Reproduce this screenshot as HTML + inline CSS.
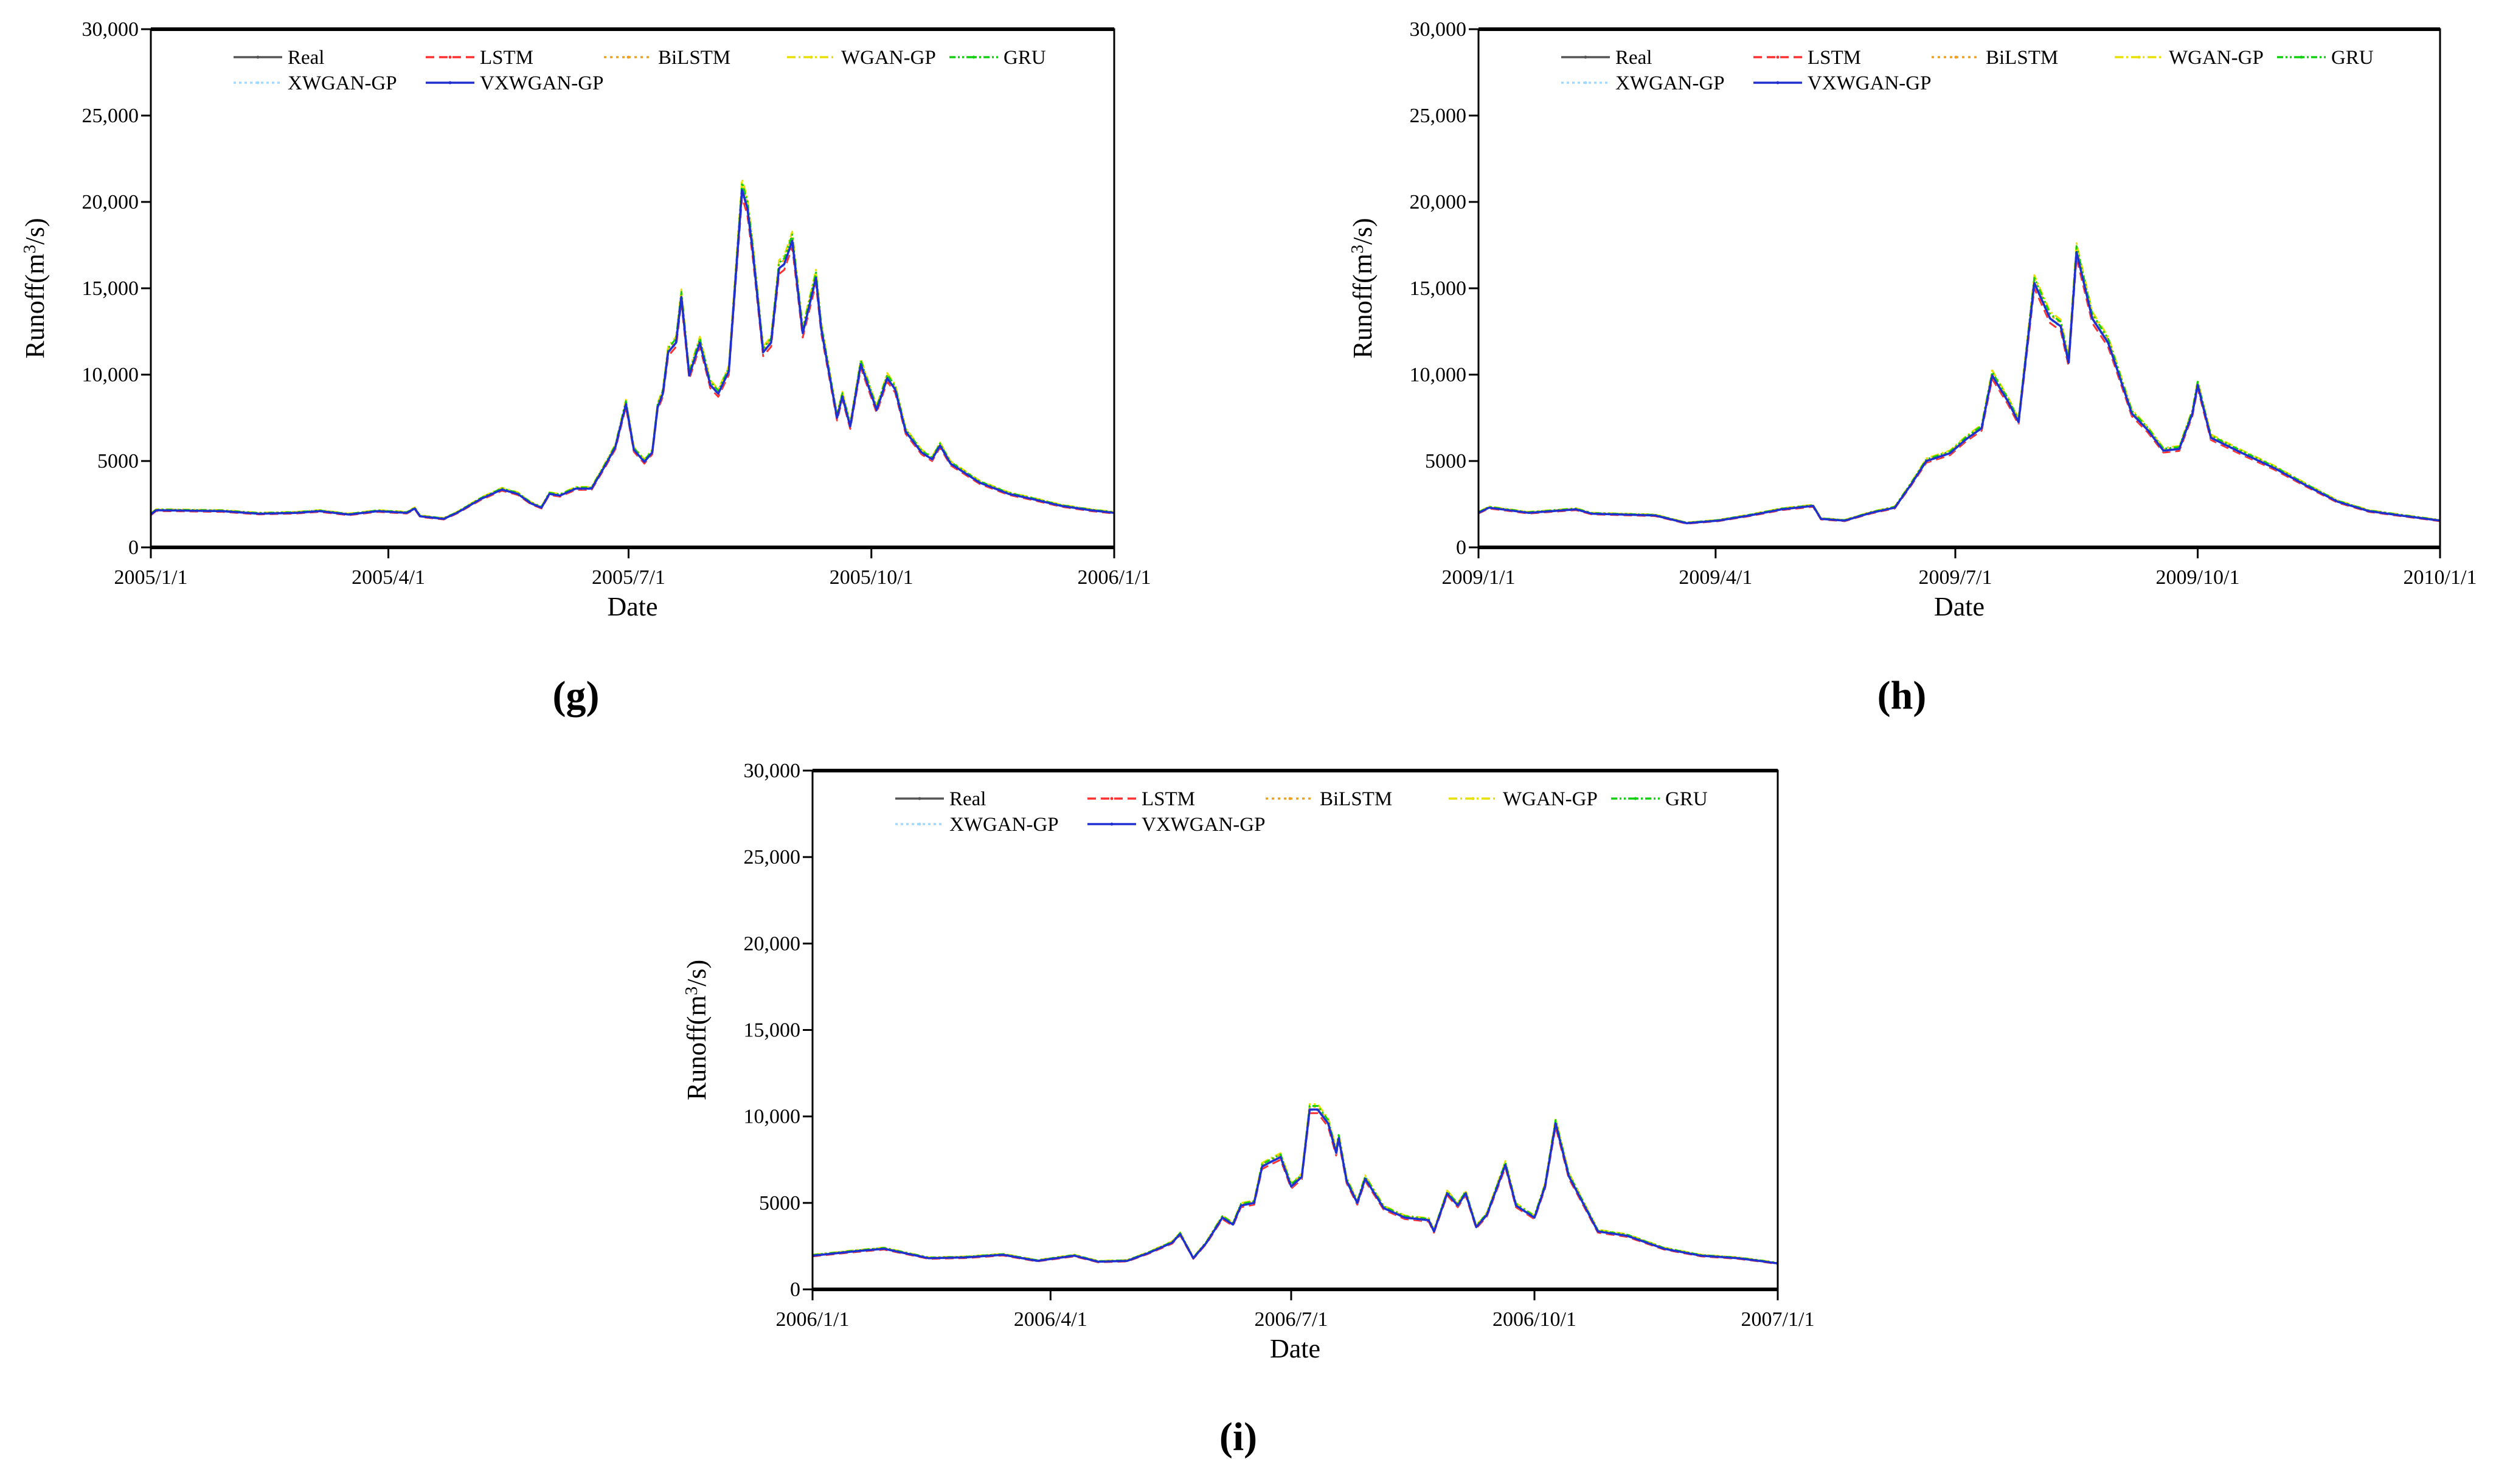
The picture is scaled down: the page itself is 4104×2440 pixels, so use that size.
<!DOCTYPE html>
<html><head><meta charset="utf-8"><style>
html,body{margin:0;padding:0;background:#fff;}
svg{display:block;font-family:"Liberation Serif","DejaVu Serif",serif;}
</style></head><body>
<svg id="chart" width="4104" height="2440" viewBox="0 0 4104 2440" xmlns="http://www.w3.org/2000/svg"></svg>
<script>
// ---- data ----
const modelNames = ["Real","LSTM","BiLSTM","WGAN-GP","GRU","XWGAN-GP","VXWGAN-GP"];
const modelColors = ["#555555","#ff3030","#f0a020","#e8e000","#10d010","#a0d8ff","#2030d0"];
const modelDash = ["", "14,8", "4,6", "14,5,3,5", "10,4,3,4,3,4", "4,5", ""];
const modelScale = [1, 0.98, 1.015, 1.03, 1.02, 0.995, 1.0];
const yTicks = [0,5000,10000,15000,20000,25000,30000];
const yTickLabels = ["0","5000","10,000","15,000","20,000","25,000","30,000"];
const xTickDays = [0,90,181,273,365];

const gLabels = ["2005/1/1","2005/4/1","2005/7/1","2005/10/1","2006/1/1"];
const gDays = [0,2,27,41,55,64,75,86,97,100,102,111,116,125,133,139,144,148,151,155,161,167,172,176,180,183,187,190,192,194,196,199,201,204,208,212,215,219,224,226,228,232,235,238,240,243,247,252,254,260,262,265,269,275,279,282,286,292,296,299,303,314,325,334,345,356,365];
const gReal = [1900,2150,2100,1950,2000,2100,1900,2100,2000,2250,1800,1650,2000,2800,3350,3100,2550,2300,3100,3000,3400,3400,4700,5800,8300,5650,4950,5500,8100,8900,11300,11850,14500,9950,11850,9400,8900,10200,20700,19650,17200,11300,11850,16150,16400,17750,12400,15600,12650,7500,8750,7000,10600,7950,9800,9150,6700,5500,5100,5900,4850,3750,3100,2800,2400,2150,2000];

const hLabels = ["2009/1/1","2009/4/1","2009/7/1","2009/10/1","2010/1/1"];
const hDays = [0,4,19,37,43,67,79,91,103,115,127,130,139,149,158,164,170,179,185,191,195,201,205,211,217,221,224,227,233,239,242,248,254,260,266,271,273,278,290,302,314,326,338,350,365];
const hReal = [2000,2300,2000,2200,1950,1850,1400,1550,1850,2200,2400,1650,1550,2000,2300,3600,5000,5450,6250,6900,9950,8450,7250,15300,13250,12800,10700,17100,13250,11850,10500,7750,6800,5600,5700,7750,9400,6350,5450,4600,3600,2650,2100,1850,1550];

const iLabels = ["2006/1/1","2006/4/1","2006/7/1","2006/10/1","2007/1/1"];
const iDays = [0,16,27,44,58,72,85,99,108,119,127,136,139,144,149,155,159,162,167,170,173,177,181,185,188,191,195,198,199,202,206,209,216,224,233,235,240,244,247,251,255,262,266,273,277,281,286,297,308,322,336,350,358,365];
const iReal = [1950,2200,2350,1800,1850,2000,1650,1950,1600,1650,2100,2700,3200,1800,2700,4150,3750,4850,5000,7100,7350,7650,5950,6500,10400,10400,9600,7900,8750,6250,5000,6400,4700,4150,4000,3350,5550,4850,5550,3600,4300,7200,4850,4150,5950,9600,6550,3350,3100,2350,1950,1800,1650,1500];

// ---- drawing ----
const NS="http://www.w3.org/2000/svg";
const svg=document.getElementById('chart');
function mk(tag,attrs,parent){const e=document.createElementNS(NS,tag);for(const k in attrs)e.setAttribute(k,attrs[k]);(parent||svg).appendChild(e);return e;}

function panel(id,L,R,T,B,days,real,xLabels,tag,tagX,tagY){
  const g=mk('g',{});
  
  
  const xs=d=>L+(R-L)*d/365;
  const ys=v=>B-(B-T)*v/30000;
  const order=[1,2,3,4,5,0,6];
  order.forEach((m)=>{
    const pts=days.map((d,i)=>xs(d).toFixed(1)+','+ys(real[i]*modelScale[m]).toFixed(1)).join(' ');
    const pl=mk('polyline',{points:pts,fill:'none',stroke:modelColors[m],'stroke-width':m===6?3.5:3,'stroke-dasharray':modelDash[m],'stroke-linejoin':'round'},g);
    
    
  });
  const fr=mk('rect',{x:L,y:T,width:R-L,height:B-T,fill:'none',stroke:'#000','stroke-width':3},g);
  
  
  mk('line',{x1:L,y1:T,x2:R,y2:T,stroke:'#000','stroke-width':6},g);
  mk('line',{x1:L,y1:B,x2:R,y2:B,stroke:'#000','stroke-width':6},g);
  yTicks.forEach((v,i)=>{
    mk('line',{x1:L-16,y1:ys(v),x2:L,y2:ys(v),stroke:'#000','stroke-width':3},g);
    const t=mk('text',{x:L-20,y:ys(v)+11,'text-anchor':'end','font-size':34},g);
    t.textContent=yTickLabels[i];
    
    
  });
  xTickDays.forEach((d,i)=>{
    mk('line',{x1:xs(d),y1:B,x2:xs(d),y2:B+18,stroke:'#000','stroke-width':3},g);
    const t=mk('text',{x:xs(d),y:B+60,'text-anchor':'middle','font-size':34},g);
    t.textContent=xLabels[i];
    
    
  });
  const xt=mk('text',{x:(L+R)/2,y:B+112,'text-anchor':'middle','font-size':44},g);
  xt.textContent='Date';
  
  
  const yt=mk('text',{x:0,y:0,'text-anchor':'middle','font-size':44,transform:`translate(${L-176},${(T+B)/2}) rotate(-90)`},g);
  yt.innerHTML='Runoff(m<tspan dy="-14" font-size="29">3</tspan><tspan dy="14">/s)</tspan>';
  
  
  const colOff=[136,452,745,1046,1313];
  const rowY=[T+46,T+88];
  modelNames.forEach((n,m)=>{
    const r=m<5?0:1, c=m<5?m:m-5;
    const lx=L+colOff[c], ly=rowY[r];
    const lg=mk('g',{},g);
    
    
    mk('line',{x1:lx,y1:ly,x2:lx+80,y2:ly,stroke:modelColors[m],'stroke-width':3.5,'stroke-dasharray':modelDash[m]},lg);
    mk('circle',{cx:lx+40,cy:ly,r:2.5,fill:modelColors[m]},lg);
    const t=mk('text',{x:lx+89,y:ly+11,'font-size':33},lg);
    t.textContent=n;
  });
  const pt=mk('text',{x:tagX,y:tagY,'text-anchor':'middle','font-size':66,'font-weight':'bold'},g);
  pt.textContent='('+tag+')';
  
  
}
panel('g',248,1832,48,900,gDays,gReal,gLabels,'g',947,1165);
panel('h',2431,4012,48,900,hDays,hReal,hLabels,'h',3127,1165);
panel('i',1336,2923,1267,2120,iDays,iReal,iLabels,'i',2036,2384);
</script>
</body></html>
